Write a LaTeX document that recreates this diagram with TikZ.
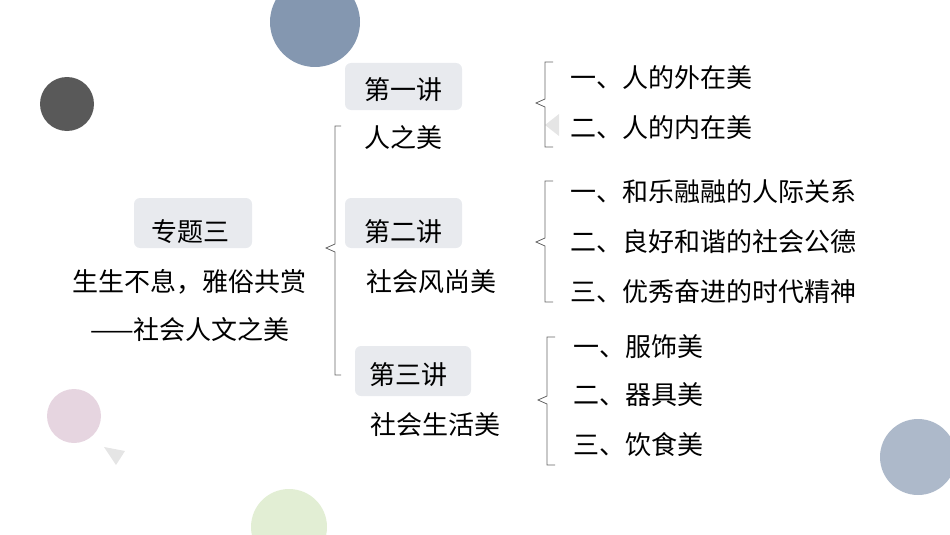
\documentclass[tikz,border=0pt]{standalone}
\usepackage{fontspec}
\setmainfont{Noto Sans CJK SC}
\definecolor{cb}{HTML}{8497B0}
\definecolor{cpink}{HTML}{E6D5E0}
\definecolor{cgreen}{HTML}{E2EED4}
\definecolor{cblue2}{HTML}{ADB9CA}
\definecolor{cbox}{HTML}{E8EAEE}
\begin{document}
\begin{tikzpicture}[x=1pt,y=-1pt,
  t/.style={font=\fontsize{26}{28}\selectfont, inner sep=0pt, text=black},
  box/.style={fill=cbox, rounded corners=6pt},
  br/.style={draw=black!60, line width=0.8pt}]
\useasboundingbox (0,0) rectangle (950,535);
\fill[cb] (315,22) circle (45);
\fill[black!65] (67,104) circle (27);
\fill[cpink] (74,416) circle (27);
\fill[cgreen] (289,527) circle (38);
\fill[cblue2] (918,457) circle (38);
\fill[black!10] (104,447) -- (125,451) -- (116,465) -- cycle;
\fill[black!10] (545,125) -- (559,114) -- (559,136) -- cycle;
% boxes
\fill[box] (134,198) rectangle (252,248);
\fill[box] (345,63) rectangle (462,110);
\fill[box] (345,198) rectangle (462,248);
\fill[box] (355,346) rectangle (471,396);
\node[t] (zt) at (190,232) {专题三};
\node[t] (z1) at (189,282) {生生不息，雅俗共赏};
\node[t] (z2) at (190,330) {——社会人文之美};
\node[t] (j1) at (403,90) {第一讲};
\node[t] (n1) at (403,138) {人之美};
\node[t] (j2) at (403,232) {第二讲};
\node[t] (n2) at (431,282) {社会风尚美};
\node[t] (j3) at (408,375) {第三讲};
\node[t] (n3) at (435,425) {社会生活美};
\node[t,anchor=west] (a1) at (570,78) {一、人的外在美};
\node[t,anchor=west] (a2) at (570,128) {二、人的内在美};
\node[t,anchor=west] (b1) at (570,192) {一、和乐融融的人际关系};
\node[t,anchor=west] (b2) at (570,242) {二、良好和谐的社会公德};
\node[t,anchor=west] (b3) at (570,292) {三、优秀奋进的时代精神};
\node[t,anchor=west] (c1) at (573,347) {一、服饰美};
\node[t,anchor=west] (c2) at (573,395) {二、器具美};
\node[t,anchor=west] (c3) at (573,445) {三、饮食美};
% brackets
\draw[br] (341,126) -- (335,126) -- (335,244) -- (326,248) -- (335,252) -- (335,375) -- (341,375);
\draw[br] (553,62) -- (545,62) -- (545,99) -- (536,103) -- (545,107) -- (545,147) -- (553,147);
\draw[br] (553,181) -- (545,181) -- (545,238) -- (536,242) -- (545,246) -- (545,302) -- (553,302);
\draw[br] (555,337) -- (547,337) -- (547,396) -- (538,400) -- (547,404) -- (547,465) -- (555,465);
\end{tikzpicture}
\end{document}
